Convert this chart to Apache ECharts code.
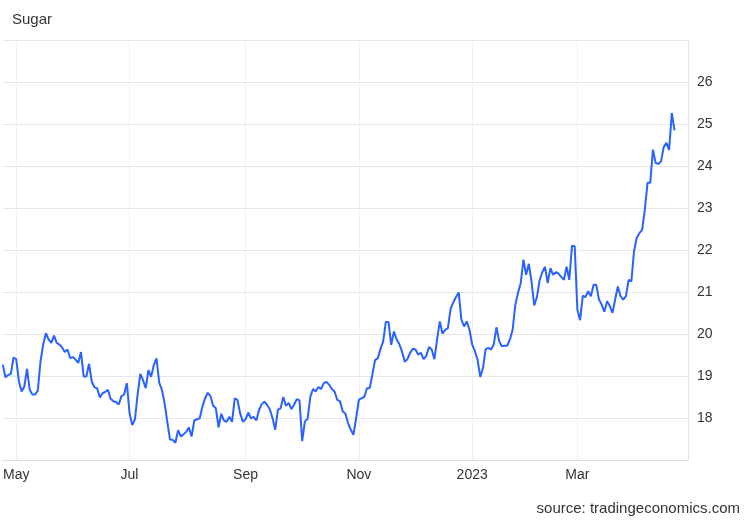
<!DOCTYPE html>
<html>
<head>
<meta charset="utf-8">
<script src="https://cdn.jsdelivr.net/npm/echarts@6/dist/echarts.min.js"></script>
<style>
  html, body { margin: 0; padding: 0; background: #ffffff; }
  #chart { width: 750px; height: 520px; }
</style>
</head>
<body>
<div id="chart"></div>
<script>
// Trading calendar (ICE sugar, US holidays removed)
const startDate = '2022-04-25';
const endDate = '2023-04-28';
const holidays = ['2022-05-30','2022-06-20','2022-07-04','2022-09-05','2022-11-24',
                  '2022-12-26','2023-01-02','2023-01-16','2023-02-20','2023-04-07'];

// Tick labels shown on the time axis and the trading day they sit on
const tickDates  = ['2022-05-02','2022-07-01','2022-09-01','2022-11-01','2023-01-03','2023-03-01'];
const tickLabels = ['May','Jul','Sep','Nov','2023','Mar'];

// Sugar price (USd/Lbs), one value per trading day from 2022-04-25
const values = [
  19.27,18.97,19.02,19.05,19.44,19.40,18.87,18.63,18.75,19.17,
  18.67,18.56,18.56,18.65,19.35,19.75,20.02,19.87,19.79,19.96,
  19.79,19.75,19.68,19.57,19.63,19.43,19.45,19.39,19.31,19.57,
  18.99,18.99,19.29,18.87,18.73,18.71,18.49,18.59,18.62,18.67,
  18.46,18.40,18.38,18.32,18.52,18.56,18.83,18.12,17.83,17.97,
  18.56,19.05,18.90,18.71,19.14,18.98,19.26,19.42,18.84,18.67,
  18.35,17.91,17.49,17.48,17.41,17.71,17.56,17.61,17.67,17.77,
  17.56,17.94,17.97,17.99,18.27,18.47,18.60,18.52,18.29,18.23,
  17.78,18.10,17.94,17.91,18.03,17.91,18.47,18.43,18.11,17.91,
  17.97,18.13,17.99,18.03,17.94,18.19,18.33,18.39,18.31,18.21,
  18.00,17.72,18.20,18.23,18.50,18.29,18.36,18.21,18.32,18.45,
  18.42,17.45,17.92,17.98,18.50,18.69,18.63,18.74,18.69,18.83,
  18.86,18.79,18.69,18.63,18.43,18.40,18.16,18.10,17.88,17.72,
  17.60,18.00,18.43,18.47,18.50,18.71,18.71,19.03,19.38,19.42,
  19.64,19.82,20.29,20.28,19.74,20.06,19.87,19.76,19.58,19.34,
  19.40,19.55,19.65,19.63,19.51,19.55,19.40,19.48,19.69,19.63,
  19.40,19.87,20.30,20.01,20.10,20.14,20.60,20.75,20.88,20.99,
  20.34,20.18,20.30,20.10,19.75,19.59,19.39,18.98,19.19,19.64,
  19.67,19.63,19.75,20.16,19.83,19.71,19.72,19.72,19.87,20.10,
  20.70,20.98,21.21,21.77,21.41,21.67,21.25,20.68,20.88,21.28,
  21.47,21.60,21.21,21.57,21.41,21.47,21.44,21.36,21.29,21.60,
  21.29,22.10,22.09,20.58,20.33,20.91,20.88,21.02,20.90,21.17,
  21.17,20.82,20.70,20.53,20.78,20.67,20.50,20.82,21.13,20.90,
  20.82,20.90,21.29,21.25,21.97,22.29,22.40,22.48,22.96,23.60,
  23.60,24.39,24.07,24.05,24.11,24.45,24.55,24.38,25.26,24.85
];

// Y axis range
const yMin = 17, yMax = 27, yStep = 1;

// Build trading-day categories
function pad(n) { return (n < 10 ? '0' : '') + n; }
const dates = [];
(function () {
  const d = new Date(startDate + 'T00:00:00Z');
  const end = new Date(endDate + 'T00:00:00Z');
  while (d <= end) {
    const wd = d.getUTCDay();
    const s = d.getUTCFullYear() + '-' + pad(d.getUTCMonth() + 1) + '-' + pad(d.getUTCDate());
    if (wd !== 0 && wd !== 6 && holidays.indexOf(s) < 0) dates.push(s);
    d.setUTCDate(d.getUTCDate() + 1);
  }
})();

const isTick = function (index, value) { return tickDates.indexOf(value) >= 0; };
const FONT = '"Liberation Sans", Arial, Helvetica, sans-serif';

const chart = echarts.init(document.getElementById('chart'), null, { renderer: 'canvas' });
chart.setOption({
  animation: false,
  backgroundColor: '#ffffff',
  textStyle: { fontFamily: FONT },
  title: [
    {
      text: 'Sugar', left: 7, top: 7,
      textStyle: { fontSize: 15, fontWeight: 'normal', color: '#333333', fontFamily: FONT }
    },
    {
      text: 'source: tradingeconomics.com', right: 5, top: 496,
      textStyle: { fontSize: 15, fontWeight: 'normal', color: '#333333', fontFamily: FONT }
    }
  ],
  grid: { left: 0, right: 62, top: 40, bottom: 60, containLabel: false },
  xAxis: {
    type: 'category',
    data: dates,
    boundaryGap: false,
    axisLine: { show: true, lineStyle: { color: '#dedede', width: 1 } },
    axisTick: { show: false },
    axisLabel: {
      interval: isTick,
      formatter: function (v) { return tickLabels[tickDates.indexOf(v)]; },
      color: '#333333', fontSize: 14, margin: 8, fontFamily: FONT
    },
    splitLine: { show: true, interval: isTick, lineStyle: { color: '#edf1f6', width: 1 } }
  },
  yAxis: {
    type: 'value',
    position: 'right',
    min: yMin, max: yMax, interval: yStep,
    axisLine: { show: true, lineStyle: { color: '#e6e6e6', width: 1 } },
    axisTick: { show: false },
    axisLabel: {
      showMinLabel: false, showMaxLabel: false,
      color: '#333333', fontSize: 14, margin: 9, fontFamily: FONT
    },
    splitLine: { show: true, lineStyle: { color: '#e6e6e6', width: 1 } }
  },
  series: [{
    type: 'line',
    data: values,
    showSymbol: false,
    smooth: false,
    lineStyle: { color: '#2962ff', width: 2 },
    itemStyle: { color: '#2962ff' }
  }]
});
</script>
</body>
</html>
